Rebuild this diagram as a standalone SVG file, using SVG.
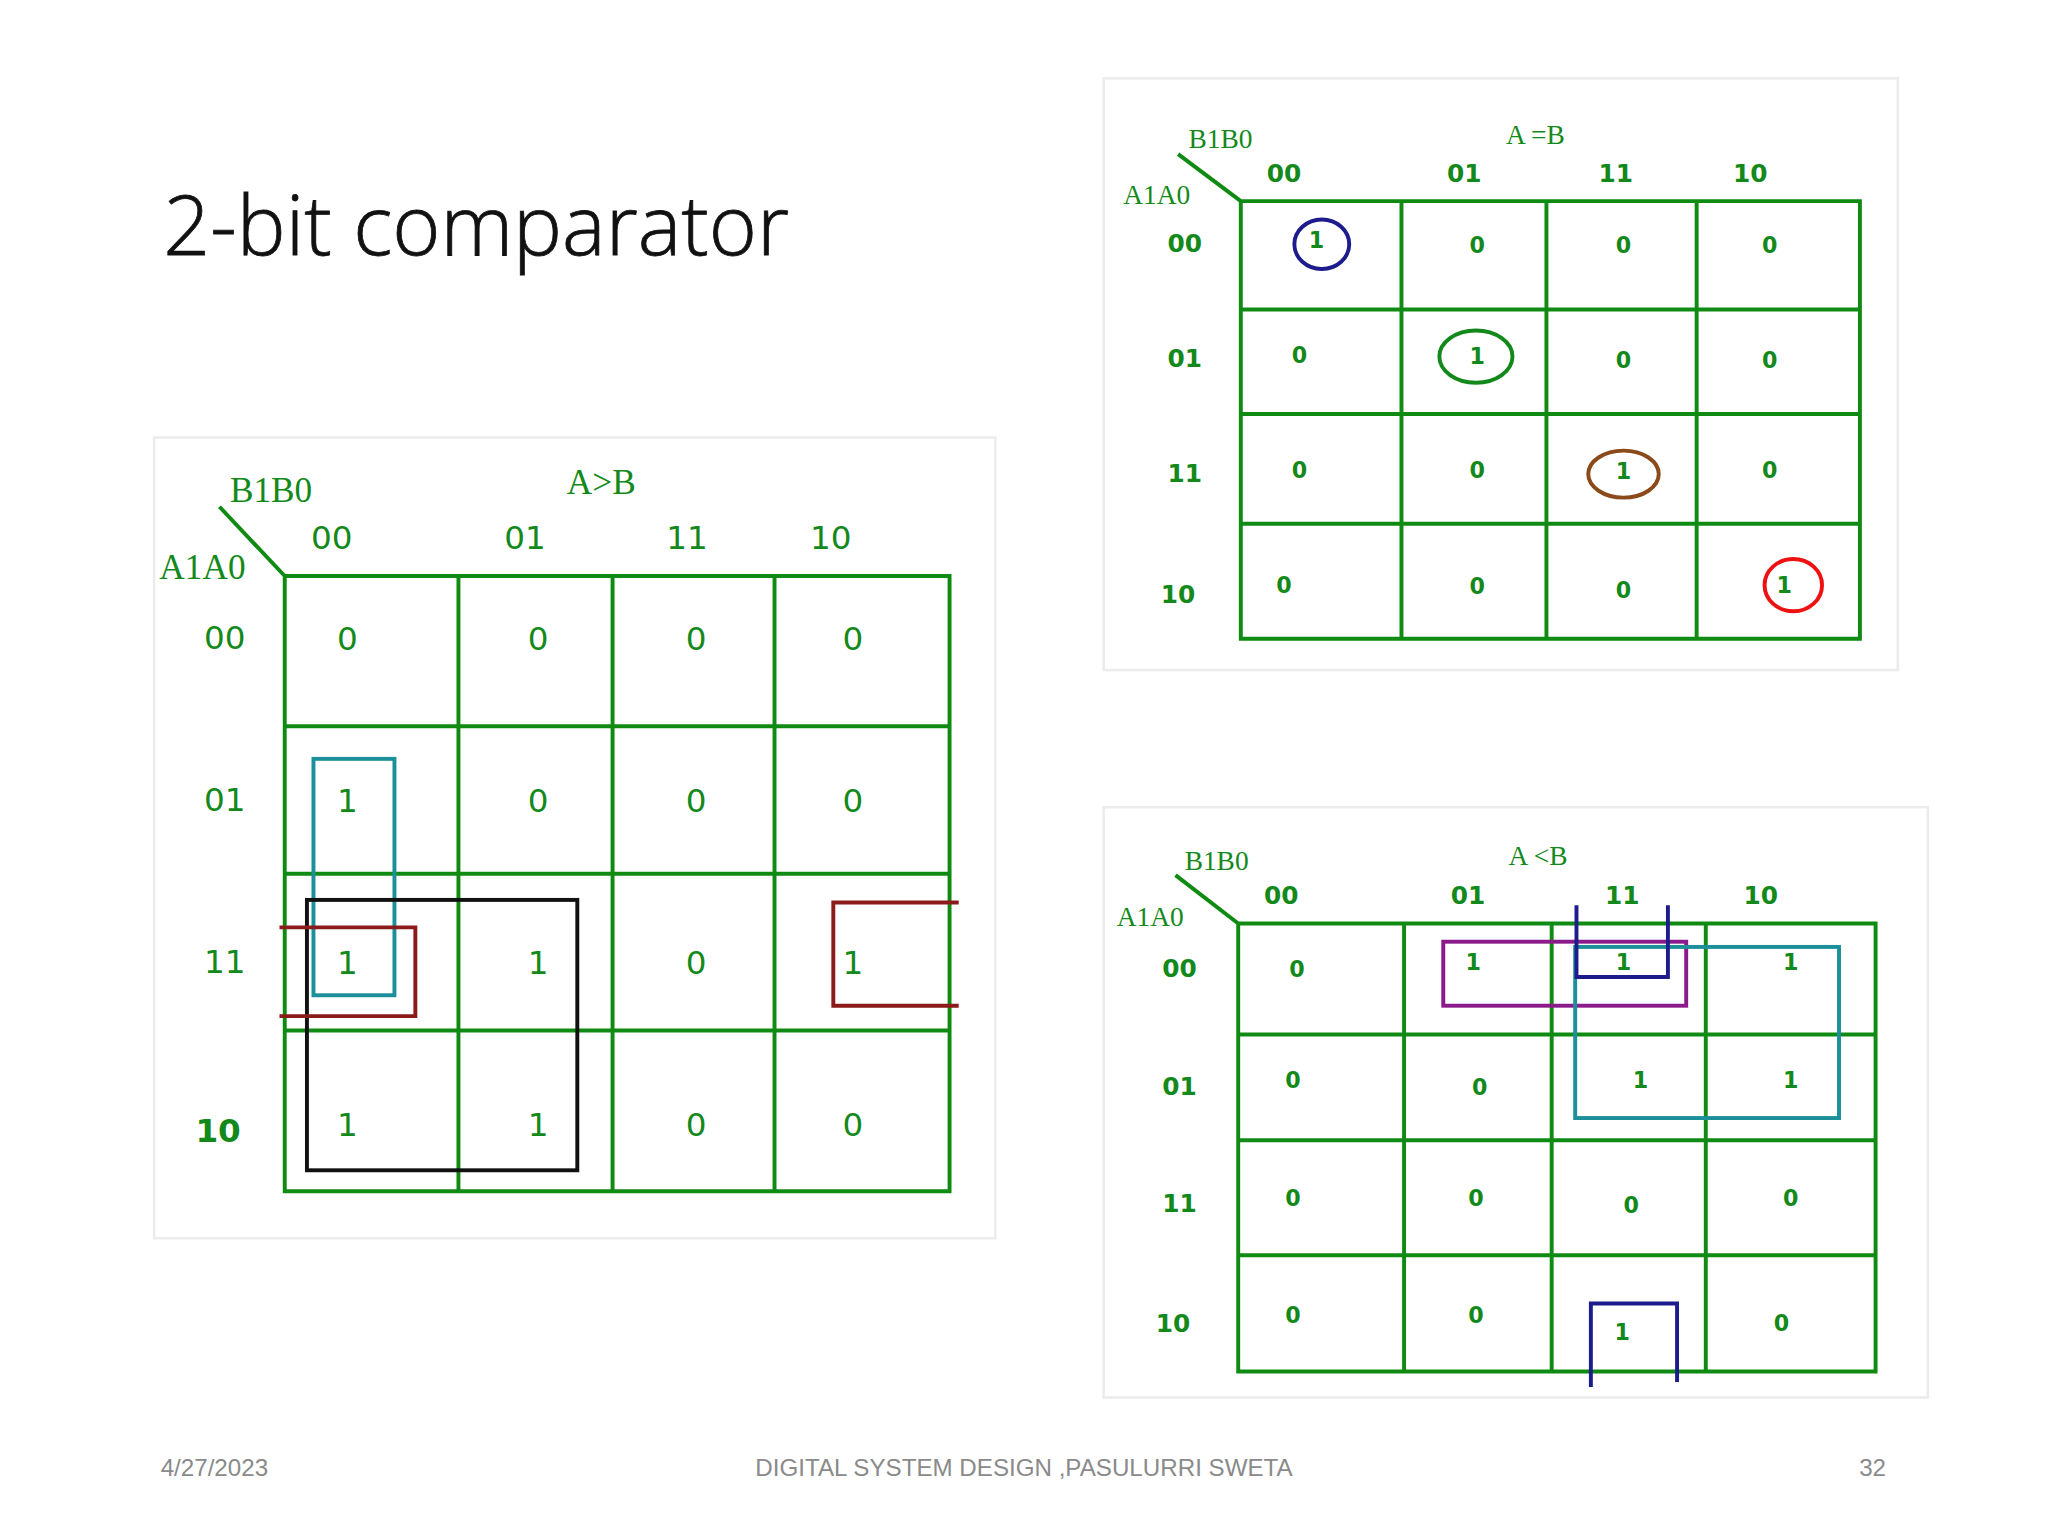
<svg xmlns="http://www.w3.org/2000/svg" width="2048" height="1536" viewBox="0 0 2048 1536">
<style>
.g{stroke:#0f8a12;stroke-width:3;fill:none}
.s{font-family:"Liberation Serif",serif;fill:#14891b}
.h{font-family:"DejaVu Sans",sans-serif;fill:#14891b;text-anchor:middle}
.v{font-family:"DejaVu Sans",sans-serif;fill:#14891b;text-anchor:middle}
.b{font-weight:bold}
.p{fill:#fff;stroke:#ececec;stroke-width:2}
.f{font-family:"Liberation Sans",sans-serif;fill:#8a8a8a;font-size:18.5px}
</style>
<rect width="2048" height="1536" fill="#fff"/>
<g transform="scale(1.30612)">
<text x="125" y="195" font-family="Open Sans,sans-serif" font-weight="300" font-size="63" fill="#111" stroke="#111" stroke-width="0.6">2-bit comparator</text>
<g id="kmap-gt">
<rect class="p" x="118" y="335" width="644" height="613"/>
<path class="g" d="M218 441H727V912H218ZM351 441V912M469 441V912M593 441V912M218 556H727M218 669H727M218 789H727M168 388L218 441"/>
<text class="s" x="176" y="384" font-size="27">B1B0</text>
<text class="s" x="434" y="378" font-size="27">A&gt;B</text>
<text class="s" x="122" y="443" font-size="27">A1A0</text>
<g class="h" font-size="25"><text x="254" y="420">00</text><text x="402" y="420">01</text><text x="526" y="420">11</text><text x="636" y="420">10</text>
<text x="172" y="497">00</text><text x="172" y="621">01</text><text x="172" y="745">11</text><text x="167" y="874" font-weight="bold">10</text></g>
<g class="v" font-size="25">
<text x="266" y="498">0</text><text x="412" y="498">0</text><text x="533" y="498">0</text><text x="653" y="498">0</text>
<text x="266" y="622">1</text><text x="412" y="622">0</text><text x="533" y="622">0</text><text x="653" y="622">0</text>
<text x="266" y="746">1</text><text x="412" y="746">1</text><text x="533" y="746">0</text><text x="653" y="746">1</text>
<text x="266" y="870">1</text><text x="412" y="870">1</text><text x="533" y="870">0</text><text x="653" y="870">0</text></g>
<rect x="240" y="581" width="62" height="181" fill="none" stroke="#1b8f9a" stroke-width="3"/>
<rect x="235" y="689" width="207" height="207" fill="none" stroke="#111" stroke-width="3"/>
<path d="M214 710H318V778H214M734 691H638V770H734" fill="none" stroke="#8b1a1a" stroke-width="3"/>
</g>
<g id="kmap-eq">
<rect class="p" x="845" y="60" width="608" height="453"/>
<path class="g" d="M950 154H1424V489H950ZM1073 154V489M1184 154V489M1299 154V489M950 237H1424M950 317H1424M950 401H1424M902 118L950 154"/>
<text class="s" x="910" y="113" font-size="21">B1B0</text>
<text class="s" x="1153" y="110" font-size="21">A =B</text>
<text class="s" x="860" y="156" font-size="21">A1A0</text>
<g class="h b" font-size="19"><text x="983" y="139">00</text><text x="1121" y="139">01</text><text x="1237" y="139">11</text><text x="1340" y="139">10</text>
<text x="907" y="193">00</text><text x="907" y="281">01</text><text x="907" y="369">11</text><text x="902" y="462">10</text></g>
<g class="v b" font-size="17">
<text x="1008" y="190">1</text><text x="1131" y="194">0</text><text x="1243" y="194">0</text><text x="1355" y="194">0</text>
<text x="995" y="278">0</text><text x="1131" y="279">1</text><text x="1243" y="282">0</text><text x="1355" y="282">0</text>
<text x="995" y="366">0</text><text x="1131" y="366">0</text><text x="1243" y="367">1</text><text x="1355" y="366">0</text>
<text x="983" y="454">0</text><text x="1131" y="455">0</text><text x="1243" y="458">0</text><text x="1366" y="454">1</text></g>
<ellipse cx="1012" cy="187" rx="21" ry="19" fill="none" stroke="#1c1c8c" stroke-width="3"/>
<ellipse cx="1130" cy="273" rx="28" ry="20" fill="none" stroke="#14891b" stroke-width="3"/>
<ellipse cx="1243" cy="363" rx="27" ry="18" fill="none" stroke="#8b4a1a" stroke-width="3"/>
<ellipse cx="1373" cy="448" rx="22" ry="20" fill="none" stroke="#e11" stroke-width="3"/>
</g>
<g id="kmap-lt">
<rect class="p" x="845" y="618" width="631" height="452"/>
<path class="g" d="M948 707H1436V1050H948ZM1075 707V1050M1188 707V1050M1306 707V1050M948 792H1436M948 873H1436M948 961H1436M900 670L948 707"/>
<text class="s" x="907" y="666" font-size="21">B1B0</text>
<text class="s" x="1155" y="662" font-size="21">A &lt;B</text>
<text class="s" x="855" y="709" font-size="21">A1A0</text>
<g class="h b" font-size="19"><text x="981" y="692">00</text><text x="1124" y="692">01</text><text x="1242" y="692">11</text><text x="1348" y="692">10</text>
<text x="903" y="748">00</text><text x="903" y="838">01</text><text x="903" y="928">11</text><text x="898" y="1020">10</text></g>
<g class="v b" font-size="17">
<text x="993" y="748">0</text><text x="1128" y="743">1</text><text x="1243" y="743">1</text><text x="1371" y="743">1</text>
<text x="990" y="833">0</text><text x="1133" y="838">0</text><text x="1256" y="833">1</text><text x="1371" y="833">1</text>
<text x="990" y="923">0</text><text x="1130" y="923">0</text><text x="1249" y="929">0</text><text x="1371" y="923">0</text>
<text x="990" y="1013">0</text><text x="1130" y="1013">0</text><text x="1242" y="1026">1</text><text x="1364" y="1019">0</text></g>
<rect x="1105" y="721" width="186" height="49" fill="none" stroke="#8b1a8b" stroke-width="3"/>
<rect x="1206" y="725" width="202" height="131" fill="none" stroke="#1b8f9a" stroke-width="3"/>
<path d="M1207 693V748H1277V693M1218 1062V998H1284V1058" fill="none" stroke="#1c1c8c" stroke-width="3"/>
</g>
<text class="f" x="123" y="1130">4/27/2023</text>
<text class="f" x="784" y="1130" text-anchor="middle">DIGITAL SYSTEM DESIGN ,PASULURRI SWETA</text>
<text class="f" x="1444" y="1130" text-anchor="end">32</text>
</g>
</svg>
